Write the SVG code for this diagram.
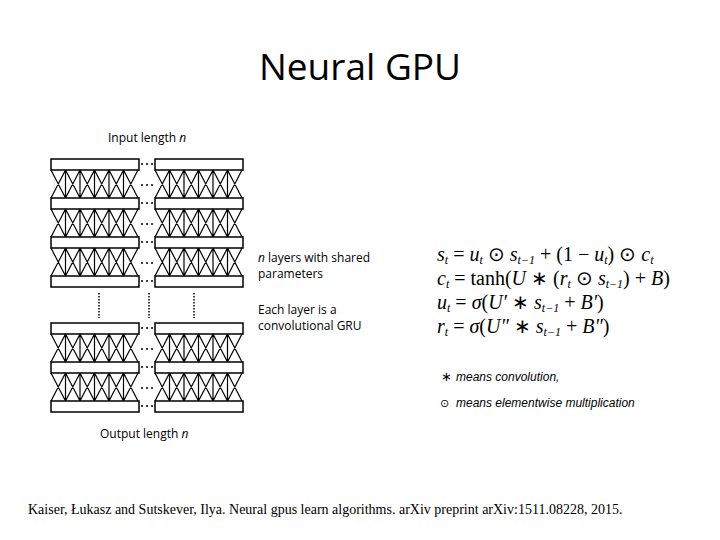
<svg xmlns="http://www.w3.org/2000/svg" xmlns:xlink="http://www.w3.org/1999/xlink" width="720" height="540" viewBox="0 0 720 540">
<style>
.bar{fill:#fff;stroke:#000;stroke-width:1.5}
.x{stroke:#000;stroke-width:1.2;fill:none}
.lab{font-family:"Open Sans","Liberation Sans",sans-serif;font-size:12px;fill:#000}
.eq{font-family:"Liberation Serif",serif;font-size:20px;fill:#000}
.s{font-size:12px;font-style:italic}
.leg{font-family:"Liberation Sans",sans-serif;font-size:12px;font-style:italic;fill:#000}
.dot{fill:#000}
</style>
<defs>
<path id="cross" class="x" d="M14.5 0V28M29 0V28M43.5 0V28M58 0V28M72.5 0V28M0 0L14.5 28M14.5 0L29 28M29 0L43.5 28M43.5 0L58 28M58 0L72.5 28M72.5 0L87 28M14.5 0L0 28M29 0L14.5 28M43.5 0L29 28M58 0L43.5 28M72.5 0L58 28M87 0L72.5 28"/>
<g id="dots"><circle cx="142" cy="0" r="1" class="dot"/><circle cx="147" cy="0" r="1" class="dot"/><circle cx="152" cy="0" r="1" class="dot"/></g>
<g id="bars"><rect x="51" y="0" width="88" height="11" class="bar"/><rect x="155" y="0" width="88" height="11" class="bar"/><use xlink:href="#dots" y="5"/></g>
<g id="layer"><use xlink:href="#cross" x="51"/><use xlink:href="#cross" x="155"/><use xlink:href="#dots" y="15"/></g>
</defs>
<rect width="720" height="540" fill="#fff"/>
<text x="360" y="80" text-anchor="middle" font-family="'Open Sans','Liberation Sans',sans-serif" font-size="37">Neural GPU</text>
<g id="net">
<use xlink:href="#bars" y="159"/><use xlink:href="#layer" y="170"/>
<use xlink:href="#bars" y="198"/><use xlink:href="#layer" y="209"/>
<use xlink:href="#bars" y="237"/><use xlink:href="#layer" y="248"/>
<use xlink:href="#bars" y="276"/>
<g stroke="#000" stroke-width="1.5" stroke-dasharray="1.5,1.5"><path d="M99 293V318M149 293V318M194 293V318"/></g>
<use xlink:href="#bars" y="323"/><use xlink:href="#layer" y="334"/>
<use xlink:href="#bars" y="362"/><use xlink:href="#layer" y="373"/>
<use xlink:href="#bars" y="401"/>
</g>
<g id="labels">
<text class="lab" x="108" y="142">Input length <tspan font-style="italic">n</tspan></text>
<text class="lab" x="100" y="438">Output length <tspan font-style="italic">n</tspan></text>
<text class="lab" x="258" y="262"><tspan font-style="italic">n</tspan> layers with shared</text>
<text class="lab" x="258" y="278">parameters</text>
<text class="lab" x="258" y="314">Each layer is a</text>
<text class="lab" x="258" y="330">convolutional GRU</text>
</g>
<g id="equations" class="eq">
<text x="437" y="261"><tspan font-style="italic">s</tspan><tspan class="s" dy="3">t</tspan><tspan dy="-3"> = </tspan><tspan font-style="italic">u</tspan><tspan class="s" dy="3">t</tspan><tspan dy="-3"> ⊙ </tspan><tspan font-style="italic">s</tspan><tspan class="s" dy="3">t−1</tspan><tspan dy="-3"> + (1 − </tspan><tspan font-style="italic">u</tspan><tspan class="s" dy="3">t</tspan><tspan dy="-3">) ⊙ </tspan><tspan font-style="italic">c</tspan><tspan class="s" dy="3">t</tspan></text>
<text x="437" y="285"><tspan font-style="italic">c</tspan><tspan class="s" dy="3">t</tspan><tspan dy="-3"> = tanh(</tspan><tspan font-style="italic">U</tspan><tspan> ∗ (</tspan><tspan font-style="italic">r</tspan><tspan class="s" dy="3">t</tspan><tspan dy="-3"> ⊙ </tspan><tspan font-style="italic">s</tspan><tspan class="s" dy="3">t−1</tspan><tspan dy="-3">) + </tspan><tspan font-style="italic">B</tspan><tspan>)</tspan></text>
<text x="437" y="309"><tspan font-style="italic">u</tspan><tspan class="s" dy="3">t</tspan><tspan dy="-3"> = </tspan><tspan font-style="italic">σ</tspan><tspan>(</tspan><tspan font-style="italic">U′</tspan><tspan> ∗ </tspan><tspan font-style="italic">s</tspan><tspan class="s" dy="3">t−1</tspan><tspan dy="-3"> + </tspan><tspan font-style="italic">B′</tspan><tspan>)</tspan></text>
<text x="437" y="333"><tspan font-style="italic">r</tspan><tspan class="s" dy="3">t</tspan><tspan dy="-3"> = </tspan><tspan font-style="italic">σ</tspan><tspan>(</tspan><tspan font-style="italic">U″</tspan><tspan> ∗ </tspan><tspan font-style="italic">s</tspan><tspan class="s" dy="3">t−1</tspan><tspan dy="-3"> + </tspan><tspan font-style="italic">B″</tspan><tspan>)</tspan></text>
</g>
<g id="legend">
<text x="441" y="381" font-family="'DejaVu Sans',sans-serif" font-size="13">∗</text>
<text class="leg" x="456" y="381">means convolution,</text>
<text x="440" y="407" font-family="'DejaVu Sans',sans-serif" font-size="11">⊙</text>
<text class="leg" x="456" y="407">means elementwise multiplication</text>
</g>
<text x="28" y="514" font-family="'Liberation Serif',serif" font-size="14">Kaiser, Łukasz and Sutskever, Ilya. Neural gpus learn algorithms. arXiv preprint arXiv:1511.08228, 2015.</text>
</svg>
